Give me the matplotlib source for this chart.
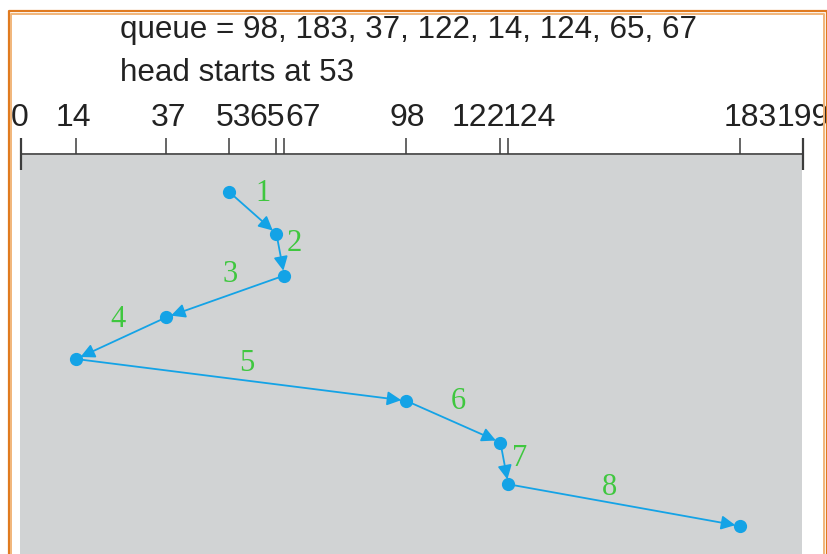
import matplotlib
matplotlib.use("Agg")
import matplotlib.pyplot as plt
from matplotlib.patches import Rectangle
from matplotlib.lines import Line2D
from matplotlib.transforms import blended_transform_factory, offset_copy

# data
queue = [98, 183, 37, 122, 14, 124, 65, 67]
head_start = 53
service_order = [53, 65, 67, 37, 14, 98, 122, 124, 183]
tick_values = [0, 14, 37, 53, 65, 67, 98, 122, 124, 183, 199]
step_labels = ["1", "2", "3", "4", "5", "6", "7", "8"]

# layout (pixels)
W, H = 828, 554
label_dx = {0: -1, 14: -3, 37: 2, 53: 4, 65: -9, 67: 19, 98: 1, 122: -22, 124: 21, 183: 10, 199: 0}
step_label_off = [(10, 19), (14, 11), (5, 22), (-3, 19), (6, 16), (5, 20), (15, 5), (-15, 18)]

BLUE = "#14a3e6"
GREEN = "#3fc73f"
GRAY = "#d1d3d4"
DARK = "#3c3c3c"

plt.rcParams["font.family"] = ["Liberation Sans", "DejaVu Sans"]

fig = plt.figure(figsize=(W / 100, H / 100), dpi=100)
fig.patch.set_facecolor("white")


def fx(px):
    return px / W


def fy(py):
    return 1 - py / H


# orange frame
for (x0, y0, x1, col, lw) in [(8.5, 10.5, 827.5, "#e07a1f", 1.6), (11.5, 13.5, 824.5, "#f1b67a", 1.4)]:
    fig.add_artist(Line2D([fx(x0), fx(x0), fx(x1), fx(x1)], [0, fy(y0), fy(y0), 0],
                          transform=fig.transFigure, color=col, lw=lw))

# gray background
fig.add_artist(Rectangle((fx(20), 0), fx(802) - fx(20), fy(155), transform=fig.transFigure,
                         facecolor=GRAY, edgecolor="none", zorder=0))

# header text
fig.text(fx(120), fy(30), "queue = " + ", ".join(str(q) for q in queue),
         fontsize=22.6, color="#222222", va="center", ha="left")
fig.text(fx(120), fy(73), "head starts at %d" % head_start,
         fontsize=22.6, color="#222222", va="center", ha="left")

# main axes
left, right, top, bottom = 21, 803, 154, 554
ax = fig.add_axes([fx(left), 0, fx(right) - fx(left), fy(top)])
ax.patch.set_alpha(0)
ax.set_xlim(0, 199)
ax.set_ylim((bottom - 192) / 41.75, (top - 192) / 41.75)
for s in ["left", "right", "bottom"]:
    ax.spines[s].set_visible(False)
ax.spines["top"].set_color(DARK)
ax.spines["top"].set_linewidth(1.2)
ax.spines["top"].set_zorder(5)
ax.set_yticks([])
ax.xaxis.set_ticks_position("top")
ax.set_xticks([v for v in tick_values if v not in (0, 199)])
ax.set_xticks([0, 199], minor=True)
ax.tick_params(axis="x", which="major", direction="out", length=11.5, width=1.1, color=DARK, labeltop=False)
ax.tick_params(axis="x", which="minor", direction="inout", length=23, width=1.6, color=DARK, labeltop=False)

# tick labels
btrans = blended_transform_factory(ax.transData, ax.transAxes)
for v in tick_values:
    t = offset_copy(btrans, fig=fig, x=label_dx[v], y=36, units="dots")
    ax.text(v, 1, str(v), transform=t, ha="center", va="center", fontsize=23,
            color="#222222", clip_on=False)

# path
steps = list(range(len(service_order)))
ax.plot(service_order, steps, "o", color=BLUE, markersize=8.5, zorder=4, clip_on=False)
for i in range(len(service_order) - 1):
    ax.annotate("", xy=(service_order[i + 1], steps[i + 1]), xytext=(service_order[i], steps[i]),
                arrowprops=dict(arrowstyle="-|>", color=BLUE, lw=1.3, mutation_scale=21,
                                shrinkA=0, shrinkB=3.5), zorder=3)
    mx = (service_order[i] + service_order[i + 1]) / 2
    my = (steps[i] + steps[i + 1]) / 2
    dx, dy = step_label_off[i]
    ax.annotate(step_labels[i], xy=(mx, my), xytext=(dx * 0.72, dy * 0.72), textcoords="offset points",
                ha="center", va="center", fontsize=22, color=GREEN, family="Liberation Serif")

fig.savefig("out.png", dpi=100)
